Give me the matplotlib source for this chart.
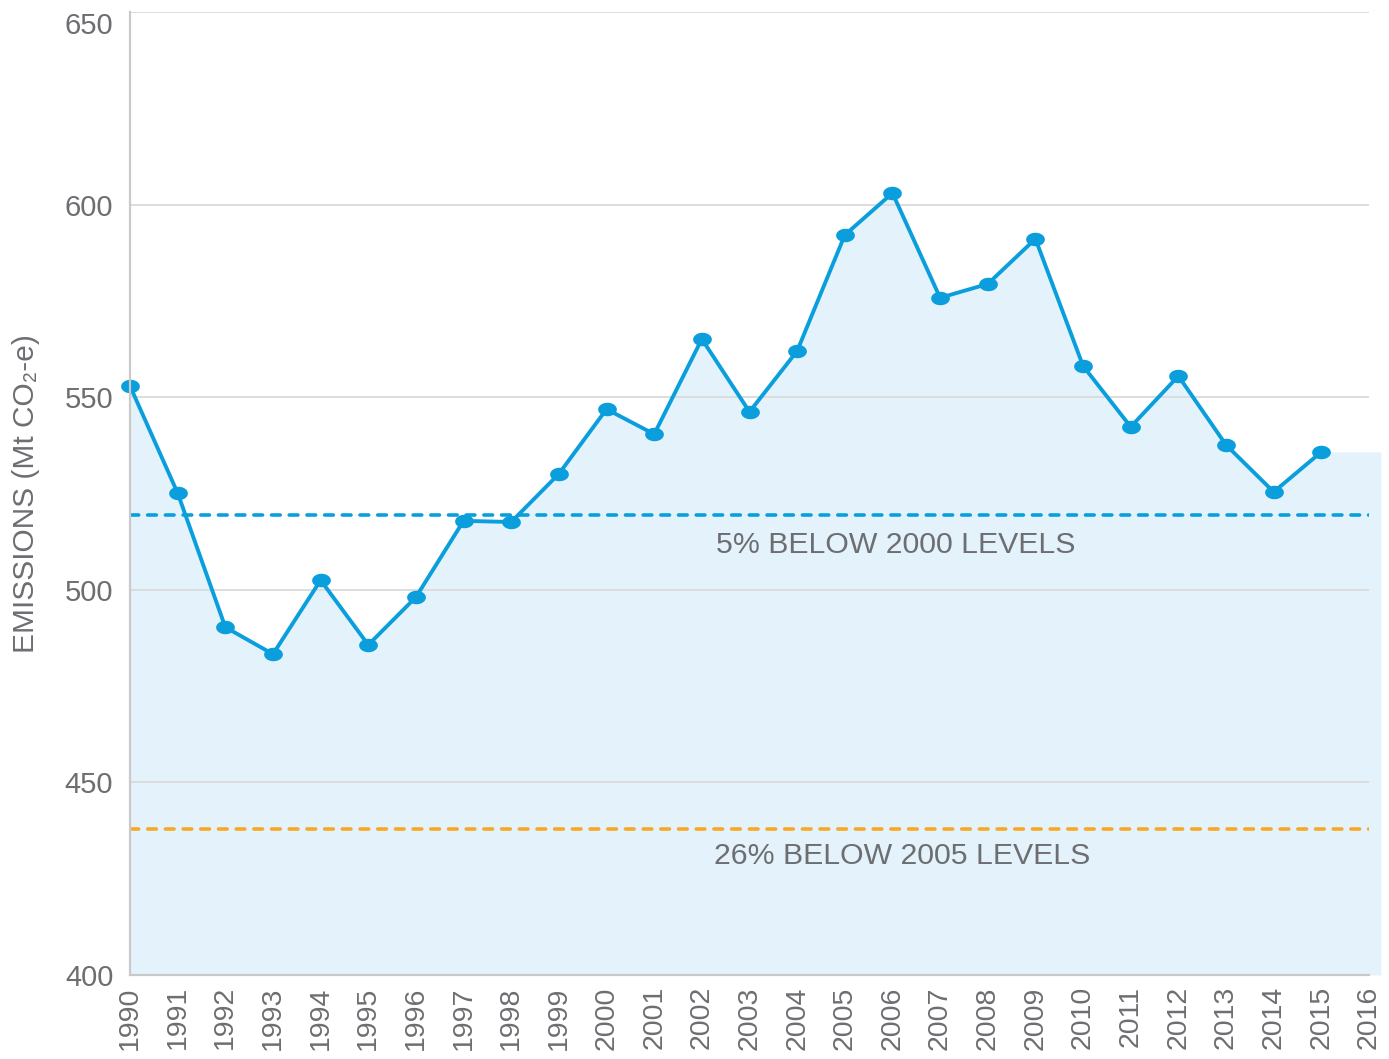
import numpy as np
import matplotlib.pyplot as plt
from matplotlib.path import Path
from matplotlib.transforms import ScaledTranslation

# Emissions data
years = [1990, 1991, 1992, 1993, 1994, 1995, 1996, 1997, 1998, 1999, 2000,
         2001, 2002, 2003, 2004, 2005, 2006, 2007, 2008, 2009, 2010, 2011,
         2012, 2013, 2014, 2015]
emissions = [552.9, 525.1, 490.3, 483.3, 502.5, 485.7, 498.1, 517.9, 517.6,
             530.1, 546.9, 540.4, 565.1, 546.2, 562.0, 592.1, 603.0, 575.8,
             579.4, 591.1, 558.1, 542.3, 555.5, 537.6, 525.4, 535.8]
tick_years = list(range(1990, 2017))
yticks = [400, 450, 500, 550, 600, 650]

target_2000 = 519.4
target_2005 = 437.9
label_2000 = '5% BELOW 2000 LEVELS'
label_2005 = '26% BELOW 2005 LEVELS'

blue = '#0a9fdc'
fill_blue = '#e4f3fb'
orange = '#f7a825'
grey_text = '#6d6e71'
grey_line = '#c9c9c9'

plt.rcParams['font.family'] = ['Liberation Sans', 'DejaVu Sans']

# slightly flattened dot marker
t = np.linspace(0, 2 * np.pi, 41)
ellipse = Path(np.column_stack([np.cos(t), 0.72 * np.sin(t)]), closed=True)

fig = plt.figure(figsize=(13.89, 10.59), dpi=100)
ax = fig.add_axes([0.0936, 0.0793, 0.892, 0.9094])

# area fill, carried flat past the last point to the right edge
fill_x = years + [2016.25]
fill_y = emissions + [emissions[-1]]
ax.fill_between(fill_x, 400, fill_y, color=fill_blue, lw=0, clip_on=False, zorder=1)

for y in yticks[1:]:
    ax.axhline(y, color='#dadada', lw=1.3, zorder=2)

ax.axhline(target_2000, color=blue, lw=2.6, ls=(0, (2.4, 2.5)),
           dash_capstyle='round', zorder=3)
ax.axhline(target_2005, color=orange, lw=2.6, ls=(0, (2.4, 2.5)),
           dash_capstyle='round', zorder=3)

ax.plot(years, emissions, color=blue, lw=2.8, marker=ellipse, ms=13.5,
        markeredgewidth=0, zorder=4, clip_on=False)

ax.text(2006.07, 511.6, label_2000, color=grey_text, fontsize=21.8,
        ha='center', va='center', zorder=5)
ax.text(2006.2, 430.8, label_2005, color=grey_text, fontsize=21.8,
        ha='center', va='center', zorder=5)

ax.set_xlim(1990, 2016)
ax.set_ylim(400, 650)
ax.set_xticks(tick_years)
ax.set_xticklabels([str(t) for t in tick_years], rotation=90)
ax.set_yticks(yticks)
ax.tick_params(axis='both', length=0, colors=grey_text)
ax.tick_params(axis='y', pad=12, labelsize=21)
ax.tick_params(axis='x', pad=8, labelsize=20.5)

# top label sits a little below its gridline in the original
top_label = ax.get_yticklabels()[-1]
top_label.set_transform(top_label.get_transform() + ScaledTranslation(0, -11 / 100, fig.dpi_scale_trans))

ax.set_ylabel('EMISSIONS (Mt CO\u2082-e)', fontsize=21.5, color=grey_text, labelpad=18)

for side in ['top', 'right']:
    ax.spines[side].set_visible(False)
for side in ['left', 'bottom']:
    ax.spines[side].set_color(grey_line)
    ax.spines[side].set_linewidth(1.6)
    ax.spines[side].set_zorder(6)

fig.savefig('out.png', dpi=100)
